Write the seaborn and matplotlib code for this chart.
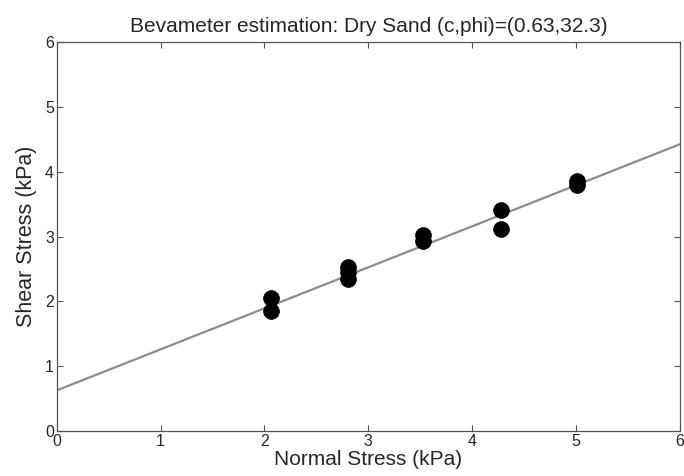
import matplotlib
matplotlib.use("Agg")
import matplotlib.pyplot as plt
import seaborn as sns
import numpy as np
import pandas as pd

normal_stress = [2.06, 2.06, 2.80, 2.80, 2.80, 3.53, 3.53, 4.28, 4.28, 5.01, 5.01]
shear_stress = [2.05, 1.85, 2.53, 2.45, 2.34, 3.02, 2.93, 3.41, 3.12, 3.85, 3.79]
cohesion = 0.63
phi_deg = 32.3
fit_x = [0.0, 6.0]

sns.set_style("ticks")
plt.rcParams['font.family'] = ['Liberation Sans', 'DejaVu Sans']
plt.rcParams['xtick.direction'] = 'in'
plt.rcParams['ytick.direction'] = 'in'

fig = plt.figure(figsize=(6.84, 4.76), dpi=100)
ax = fig.add_axes([0.083, 0.094, 0.911, 0.818])

fit_y = [cohesion + x * np.tan(np.radians(phi_deg)) for x in fit_x]
df_fit = pd.DataFrame({"x": fit_x, "y": fit_y})
sns.lineplot(data=df_fit, x="x", y="y", ax=ax, color="#8c8c8c", linewidth=1.6)

df = pd.DataFrame({"n": normal_stress, "s": shear_stress})
sns.scatterplot(data=df, x="n", y="s", ax=ax, color="black", s=130, edgecolor="black", linewidth=0.5, zorder=3)

ax.set_xlim(0, 6)
ax.set_ylim(0, 6)
ax.set_xticks(range(7))
ax.set_yticks(range(7))
ax.tick_params(axis='both', which='both', top=True, right=True, length=4, width=0.8,
               color="#555555", labelsize=11.5, pad=2)
for sp in ax.spines.values():
    sp.set_visible(True)
    sp.set_color("#555555")
    sp.set_linewidth(0.9)
ax.set_xlabel("Normal Stress (kPa)", fontsize=15, labelpad=1)
ax.set_ylabel("Shear Stress (kPa)", fontsize=15.5, labelpad=6)
ax.set_title("Bevameter estimation: Dry Sand (c,phi)=(0.63,32.3)", fontsize=15, pad=7)

fig.savefig("out.png", dpi=100)
